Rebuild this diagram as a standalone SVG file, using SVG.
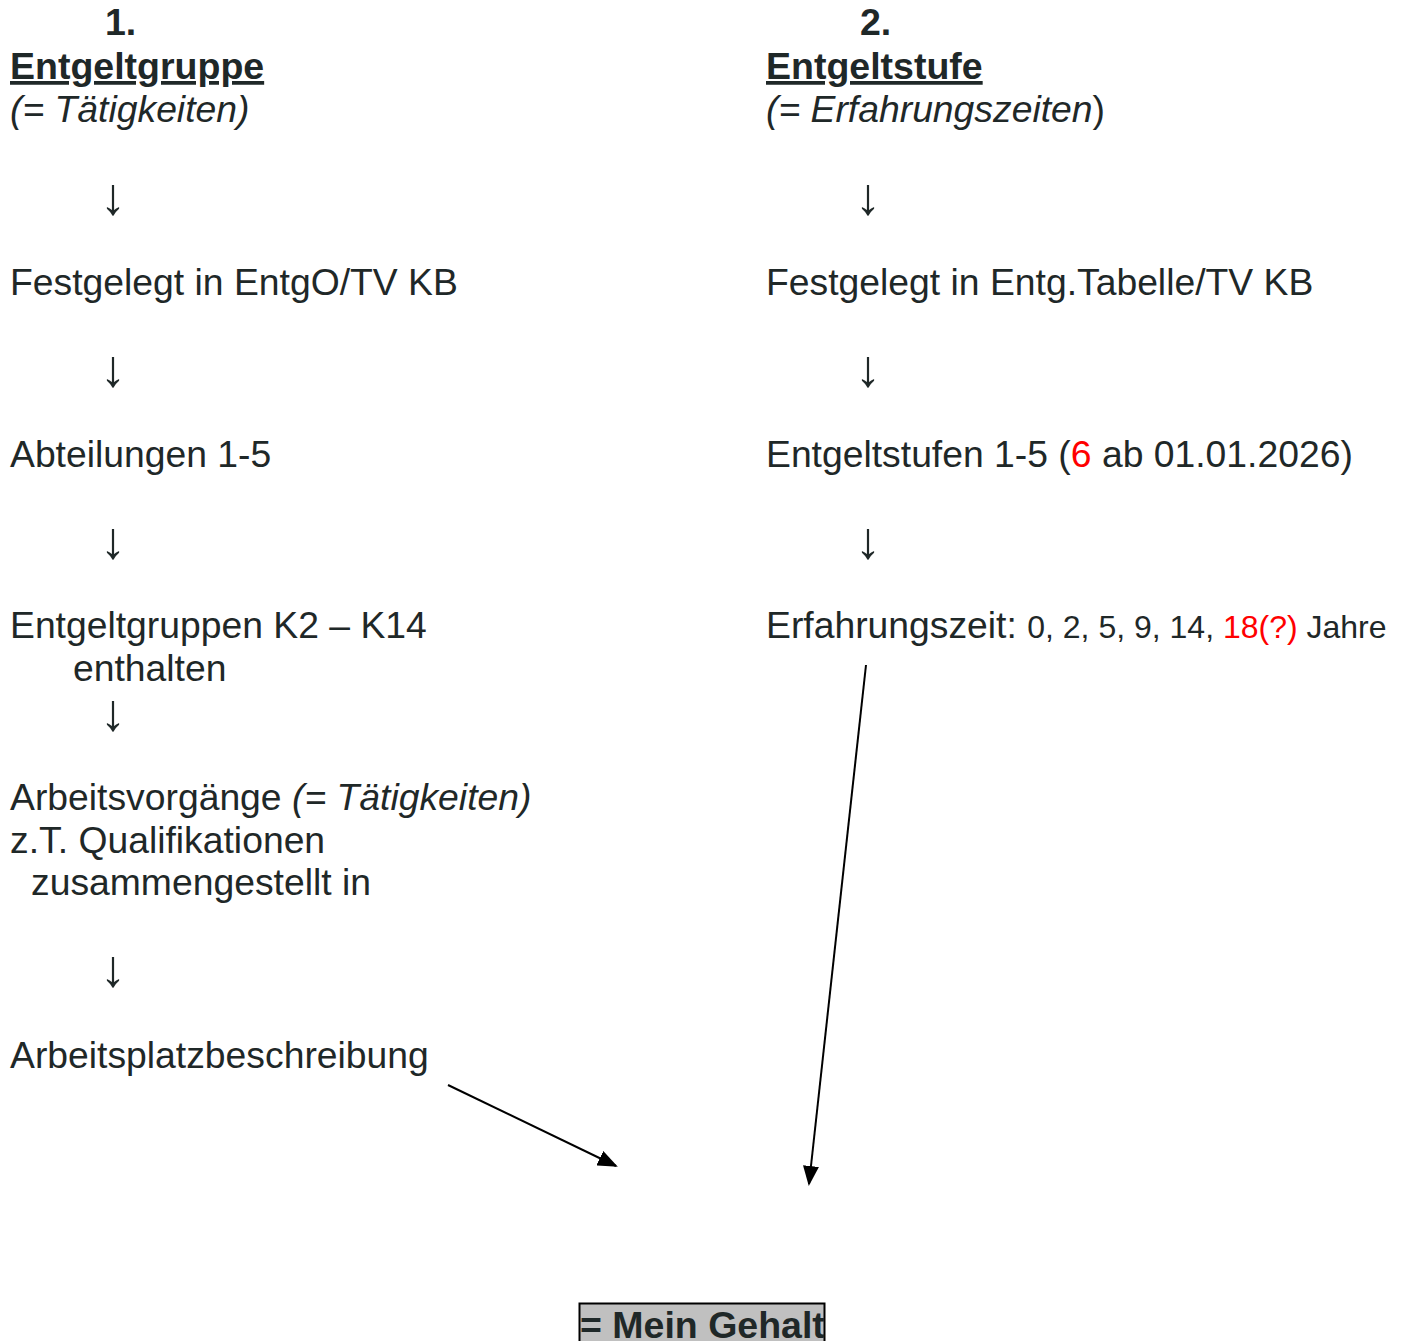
<svg xmlns="http://www.w3.org/2000/svg" width="1403" height="1341" viewBox="0 0 1403 1341">
<style>
text { font-family: "Liberation Sans", Arial, sans-serif; fill: #1f2828; font-size: 37.3px; }
.b { font-weight: bold; font-size: 37.5px; }
.u { text-decoration: underline; }
.i { font-style: italic; }
.r { fill: #ff0000; }
.s { font-size: 32px; }
.arr { font-size: 52px; }
.conn { stroke: #000; stroke-width: 2; fill: none; marker-end: url(#ah); }
</style>
<defs>
<marker id="ah" markerWidth="10" markerHeight="8" refX="9" refY="4" orient="auto" markerUnits="strokeWidth">
<path d="M0,0 L10,4 L0,8 Z" fill="#000"/>
</marker>
</defs>
<rect width="1403" height="1341" fill="#fff"/>
<g id="col1">
<g id="h1"><text class="b" x="105" y="35">1.</text>
<text class="b u" x="10" y="79">Entgeltgruppe</text>
<text class="i" x="10" y="122">(= Tätigkeiten)</text></g>
<text class="arr" x="100" y="214">↓</text>
<g id="n1a"><text x="10" y="295">Festgelegt in EntgO/TV KB</text></g>
<text class="arr" x="100" y="386">↓</text>
<g id="n1b"><text x="10" y="467">Abteilungen 1-5</text></g>
<text class="arr" x="100" y="558">↓</text>
<g id="n1c"><text x="10" y="638">Entgeltgruppen K2 – K14</text>
<text x="73" y="681">enthalten</text></g>
<text class="arr" x="100" y="730">↓</text>
<g id="n1d"><text x="10" y="810">Arbeitsvorgänge <tspan class="i">(= Tätigkeiten)</tspan></text>
<text x="10" y="853">z.T. Qualifikationen</text>
<text x="31" y="895">zusammengestellt in</text></g>
<text class="arr" x="100" y="986">↓</text>
<g id="n1e"><text x="10" y="1068">Arbeitsplatzbeschreibung</text></g>
</g>
<g id="col2">
<g id="h2"><text class="b" x="860" y="35">2.</text>
<text class="b u" x="766" y="79">Entgeltstufe</text>
<text x="766" y="122"><tspan class="i">(= Erfahrungszeiten</tspan>)</text></g>
<text class="arr" x="855" y="214">↓</text>
<g id="n2a"><text x="766" y="295">Festgelegt in Entg.Tabelle/TV KB</text></g>
<text class="arr" x="855" y="386">↓</text>
<g id="n2b"><text x="766" y="467">Entgeltstufen 1-5 (<tspan class="r">6</tspan> ab 01.01.2026)</text></g>
<text class="arr" x="855" y="558">↓</text>
<g id="n2c"><text x="766" y="638">Erfahrungszeit: <tspan class="s">0, 2, 5, 9, 14, </tspan><tspan class="s r">18(?)</tspan><tspan class="s"> Jahre</tspan></text></g>
</g>
<g id="result">
<rect x="579.5" y="1303.5" width="245" height="40" fill="#c0c0c0" stroke="#000" stroke-width="2"/>
<text class="b" x="580" y="1338">= Mein Gehalt</text>
</g>
<g id="connectors">
<line class="conn" x1="448" y1="1085" x2="616" y2="1166"/>
<line class="conn" x1="866" y1="665" x2="809" y2="1184"/>
</g>
</svg>
